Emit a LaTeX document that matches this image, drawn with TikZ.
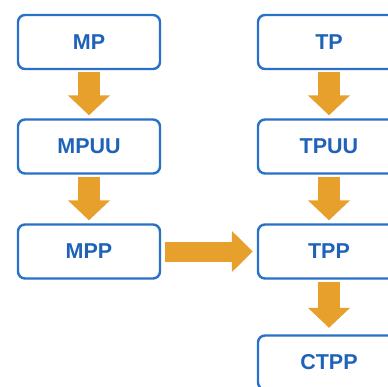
\documentclass[tikz,border=0pt]{standalone}
\usepackage{fontspec}
\setmainfont{Liberation Sans}
\usetikzlibrary{arrows.meta}
\definecolor{boxblue}{HTML}{2870C8}
\definecolor{textblue}{HTML}{1F62B8}
\definecolor{flow}{HTML}{E8A02C}
\tikzset{
  stage/.style={draw=boxblue, line width=2.4pt, rounded corners=7pt, fill=white,
    minimum width=142pt, minimum height=54pt, inner sep=0pt,
    text=textblue, font=\fontsize{21.5}{25}\selectfont\bfseries},
  downflow/.style={draw=flow, line width=22pt,
    -{Triangle[width=41pt,length=20pt]}},
  sideflow/.style={draw=flow, line width=20pt,
    -{Triangle[width=40pt,length=21pt]}}
}
\begin{document}
\begin{tikzpicture}[x=1pt,y=-1pt]
  \useasboundingbox (0,0) rectangle (388,386);
  \clip (0,0) rectangle (388,386);

  % left column
  \node[stage] (mp)   at (89,42)    {MP};
  \node[stage] (mpuu) at (89,146.5) {MPUU};
  \node[stage] (mpp)  at (89,251.5) {MPP};

  % right column
  \node[stage] (tp)   at (329,42)    {TP};
  \node[stage] (tpuu) at (329,146.5) {TPUU};
  \node[stage] (tpp)  at (329,251.5) {TPP};
  \node[stage] (ctpp) at (329,362.5) {CTPP};

  % vertical flow arrows
  \draw[downflow] ([yshift=-2pt]mp.south)   -- ([yshift=3pt]mpuu.north);
  \draw[downflow] ([yshift=-2pt]mpuu.south) -- ([yshift=3pt]mpp.north);
  \draw[downflow] ([yshift=-2pt]tp.south)   -- ([yshift=3pt]tpuu.north);
  \draw[downflow] ([yshift=-2pt]tpuu.south) -- ([yshift=3pt]tpp.north);
  \draw[downflow] ([yshift=-2pt]tpp.south)  -- ([yshift=6.5pt]ctpp.north);

  % horizontal flow arrow
  \draw[sideflow] ([xshift=4pt]mpp.east) -- ([xshift=-4pt]tpp.west);
\end{tikzpicture}
\end{document}
